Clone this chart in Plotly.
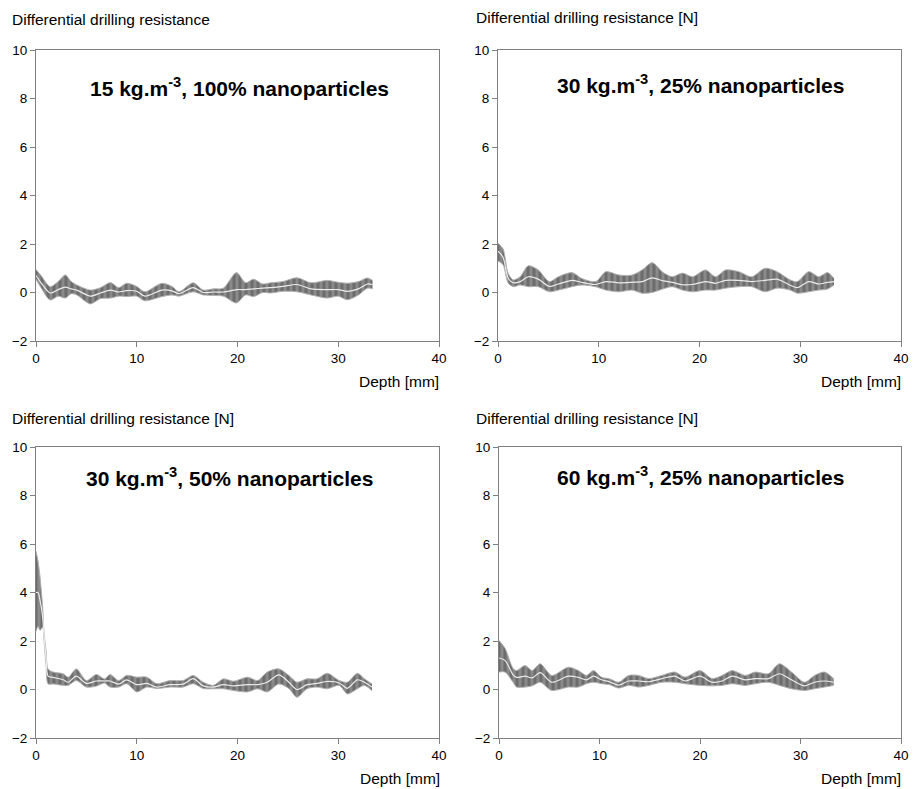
import plotly.graph_objects as go

W, H = 914, 789

# ---------------- data ----------------
titles = [
    "15 kg.m<sup>-3</sup>, 100% nanoparticles",
    "30 kg.m<sup>-3</sup>, 25% nanoparticles",
    "30 kg.m<sup>-3</sup>, 50% nanoparticles",
    "60 kg.m<sup>-3</sup>, 25% nanoparticles",
]
ytitles = [
    "Differential drilling resistance",
    "Differential drilling resistance [N]",
    "Differential drilling resistance [N]",
    "Differential drilling resistance [N]",
]
xtitle = "Depth [mm]"
xticks = [0, 10, 20, 30, 40]
yticks = [-2, 0, 2, 4, 6, 8, 10]

depth1 = [0, 0.5, 1.4, 2.2, 2.9, 3.5, 4.05, 5.4, 6.4, 7.4, 8.2, 9.0, 10.0, 10.8, 12.5, 13.5, 14.2, 15.6, 16.6, 17.6,
          18.6, 19.9, 20.8, 21.6, 22.5, 23.3, 24.5, 25.9, 27.3, 28.9, 30.0, 30.9, 32.0, 32.9, 33.4]
upper1 = [0.95, 0.7, 0.24, 0.45, 0.72, 0.45, 0.31, 0.1, 0.2, 0.41, 0.2, 0.38, 0.25, 0.03, 0.38, 0.25, 0.03, 0.4, 0.1, 0.15,
          0.18, 0.82, 0.4, 0.55, 0.35, 0.4, 0.45, 0.61, 0.4, 0.5, 0.42, 0.38, 0.45, 0.6, 0.5]
lower1 = [0.55, 0.2, -0.31, -0.15, -0.23, -0.05, -0.1, -0.47, -0.25, -0.23, -0.15, -0.17, -0.15, -0.34, -0.17, -0.1, -0.15, 0.03, -0.1, -0.12,
          -0.15, -0.43, -0.1, -0.17, 0.0, -0.02, 0.05, 0.03, -0.1, -0.23, -0.15, -0.3, -0.1, 0.18, 0.15]
mean1 = [0.7, 0.4, -0.02, 0.12, 0.22, 0.15, 0.1, -0.15, -0.02, 0.1, 0.02, 0.08, 0.05, -0.15, 0.1, 0.07, -0.05, 0.2, 0.0, 0.02,
         0.02, 0.12, 0.12, 0.15, 0.18, 0.2, 0.25, 0.33, 0.15, 0.12, 0.12, 0.05, 0.15, 0.35, 0.32]

depth2 = [0, 0.5, 1.0, 1.5, 2.2, 3.0, 4.0, 5.1, 6.0, 7.35, 8.3, 9.7, 10.7, 12.0, 13.3, 14.3, 15.3, 16.4, 17.3, 18.3,
          19.3, 20.6, 21.6, 22.6, 23.9, 25.2, 26.5, 27.7, 29.0, 29.7, 30.85, 31.85, 32.7, 33.35]
upper2 = [2.03, 1.8, 0.8, 0.52, 0.65, 1.1, 0.93, 0.45, 0.65, 0.82, 0.58, 0.45, 0.86, 0.72, 0.72, 0.93, 1.23, 0.82, 0.65, 0.8,
          0.65, 0.93, 0.65, 0.93, 0.86, 0.65, 1.0, 0.86, 0.52, 0.45, 0.86, 0.65, 0.82, 0.58]
lower2 = [1.3, 1.15, 0.4, 0.24, 0.31, 0.24, 0.24, 0.03, 0.1, 0.24, 0.31, 0.24, 0.1, 0.03, 0.1, -0.03, 0.0, 0.15, 0.24, 0.1,
          0.03, 0.1, 0.1, 0.18, 0.24, 0.24, 0.03, 0.18, 0.1, -0.03, 0.03, 0.1, 0.14, 0.31]
mean2 = [1.7, 1.45, 0.6, 0.4, 0.45, 0.65, 0.55, 0.25, 0.35, 0.5, 0.42, 0.33, 0.45, 0.4, 0.42, 0.45, 0.6, 0.48, 0.42, 0.32,
         0.33, 0.45, 0.38, 0.5, 0.5, 0.45, 0.5, 0.55, 0.3, 0.2, 0.45, 0.35, 0.42, 0.45]

depth3 = [0, 0.2, 0.4, 0.66, 0.8, 1.0, 1.2, 1.7, 2.7, 3.2, 4.0, 5.0, 6.0, 6.8, 7.35, 8.2, 9.0, 10.0, 11.0, 12.0,
          13.3, 14.6, 15.6, 16.6, 17.6, 18.6, 19.6, 21.0, 22.0, 22.95, 24.1, 25.1, 25.9, 26.9, 27.9, 28.9, 30.1, 30.9, 31.9, 32.6, 33.35]
upper3 = [5.7, 5.3, 4.64, 3.4, 2.35, 1.6, 0.85, 0.72, 0.65, 0.51, 0.85, 0.37, 0.62, 0.44, 0.62, 0.37, 0.58, 0.51, 0.51, 0.24,
          0.37, 0.37, 0.58, 0.3, 0.17, 0.44, 0.34, 0.51, 0.37, 0.72, 0.85, 0.58, 0.3, 0.44, 0.44, 0.67, 0.37, 0.3, 0.67, 0.44, 0.23]
lower3 = [2.4, 2.6, 2.44, 2.57, 2.0, 1.0, 0.23, 0.23, 0.17, 0.17, 0.37, 0.1, 0.14, 0.27, 0.1, 0.1, 0.24, -0.1, 0.1, 0.04,
          0.1, 0.1, 0.24, 0.04, 0.03, 0.03, -0.04, -0.1, 0.03, -0.1, 0.23, 0.04, -0.32, 0.03, 0.1, 0.03, 0.17, -0.18, 0.03, 0.17, -0.05]
mean3 = [4.0, 4.0, 3.68, 3.0, 2.2, 1.3, 0.55, 0.5, 0.4, 0.3, 0.55, 0.25, 0.35, 0.35, 0.35, 0.22, 0.4, 0.2, 0.25, 0.1,
         0.2, 0.22, 0.45, 0.15, 0.1, 0.2, 0.15, 0.2, 0.2, 0.3, 0.6, 0.3, 0.0, 0.2, 0.25, 0.33, 0.27, 0.05, 0.4, 0.3, 0.1]

depth4 = [0, 0.6, 1.4, 1.75, 2.6, 3.3, 4.1, 5.25, 6.9, 7.9, 8.7, 9.4, 10.2, 11.0, 11.9, 12.9, 13.9, 14.9, 16.2, 17.5,
          18.5, 20.0, 21.2, 22.2, 23.2, 24.5, 25.5, 26.8, 27.9, 29.1, 30.4, 31.4, 32.4, 33.3]
upper4 = [2.02, 1.7, 0.87, 0.78, 0.99, 0.78, 1.06, 0.58, 0.92, 0.78, 0.58, 0.78, 0.51, 0.44, 0.3, 0.58, 0.58, 0.45, 0.58, 0.72,
          0.51, 0.78, 0.45, 0.58, 0.78, 0.58, 0.72, 0.65, 1.06, 0.72, 0.3, 0.58, 0.72, 0.44]
lower4 = [0.72, 0.72, 0.3, 0.1, 0.1, 0.15, 0.3, -0.04, 0.1, 0.1, 0.24, 0.3, 0.24, 0.2, 0.06, 0.17, 0.1, 0.17, 0.3, 0.3,
          0.24, 0.17, 0.15, 0.17, 0.24, 0.17, 0.24, 0.3, 0.17, 0.03, -0.04, 0.03, 0.1, 0.17]
mean4 = [1.3, 1.2, 0.6, 0.5, 0.55, 0.48, 0.7, 0.3, 0.55, 0.5, 0.4, 0.55, 0.4, 0.32, 0.18, 0.35, 0.35, 0.32, 0.45, 0.55,
         0.35, 0.55, 0.3, 0.35, 0.55, 0.4, 0.45, 0.45, 0.65, 0.4, 0.15, 0.3, 0.35, 0.3]

panels = [
    (depth1, upper1, lower1, mean1),
    (depth2, upper2, lower2, mean2),
    (depth3, upper3, lower3, mean3),
    (depth4, upper4, lower4, mean4),
]

# ---------------- layout (pixel boxes of plot areas) ----------------
boxes = [  # x0, x1, ytop, ybottom
    (36, 439, 50, 341),
    (498, 901, 50, 341),
    (36, 439, 447, 738),
    (499, 901, 447, 738),
]
ytitle_pos = [(10, 19), (474, 18), (10, 418), (474, 419)]
depth_pos = [(441, 381), (903, 381), (442, 778), (903, 778)]
title_pos = [(240, 87), (700, 84), (230, 477), (700, 476)]

FONT = "Liberation Sans, Arial, sans-serif"
fig = go.Figure()
layout = dict(width=W, height=H, margin=dict(l=0, r=0, t=0, b=0, autoexpand=False),
              paper_bgcolor="white", plot_bgcolor="white", showlegend=False,
              font=dict(family=FONT, size=13, color="black"), annotations=[])

for i, ((x, up, lo, mu), (x0, x1, yt, yb)) in enumerate(zip(panels, boxes)):
    assert len(x) == len(up) == len(lo) == len(mu), i
    n = "" if i == 0 else str(i + 1)
    xa, ya = "x" + n, "y" + n
    fig.add_trace(go.Scatter(x=x, y=lo, mode="lines", xaxis=xa, yaxis=ya,
                             line=dict(color="#b0b0b0", width=1, shape="spline", smoothing=0.8),
                             hoverinfo="skip"))
    fig.add_trace(go.Scatter(x=x, y=up, mode="lines", xaxis=xa, yaxis=ya, fill="tonexty",
                             fillcolor="#7a7a7a",
                             fillpattern=dict(shape="|", fgcolor="#a8a8a8", bgcolor="#6c6c6c",
                                              size=6, solidity=0.5),
                             line=dict(color="#b0b0b0", width=1, shape="spline", smoothing=0.8),
                             hoverinfo="skip"))
    fig.add_trace(go.Scatter(x=x, y=mu, mode="lines", xaxis=xa, yaxis=ya,
                             line=dict(color="#ececec", width=1.2, shape="spline", smoothing=0.8)))
    axis_common = dict(showline=True, linecolor="#808080", linewidth=1, mirror=True, automargin=False,
                       showgrid=False, zeroline=False, ticks="outside", ticklen=5,
                       tickcolor="#808080", tickfont=dict(size=13.5, color="black", family=FONT))
    layout["xaxis" + n] = dict(axis_common, domain=[x0 / W, x1 / W], range=[0, 40],
                               tickvals=xticks, anchor=ya)
    layout["yaxis" + n] = dict(axis_common, domain=[1 - yb / H, 1 - yt / H], range=[-2, 10],
                               tickvals=yticks, anchor=xa)
    tx, ty = ytitle_pos[i]
    layout["annotations"].append(dict(text=ytitles[i], x=tx / W, y=1 - ty / H, xref="paper", yref="paper",
                                      xanchor="left", yanchor="middle", showarrow=False,
                                      font=dict(size=15.5, family=FONT)))
    dx, dy = depth_pos[i]
    layout["annotations"].append(dict(text=xtitle, x=dx / W, y=1 - dy / H, xref="paper", yref="paper",
                                      xanchor="right", yanchor="middle", showarrow=False,
                                      font=dict(size=15.5, family=FONT)))
    px, py = title_pos[i]
    layout["annotations"].append(dict(text="<b>" + titles[i] + "</b>", x=px / W, y=1 - py / H,
                                      xref="paper", yref="paper", xanchor="center", yanchor="middle",
                                      showarrow=False, font=dict(size=21, family=FONT)))

fig.update_layout(**layout)
fig.write_html("out.html", config={"displayModeBar": False},
               post_script="document.body.style.margin='0';document.body.style.overflow='hidden';")
